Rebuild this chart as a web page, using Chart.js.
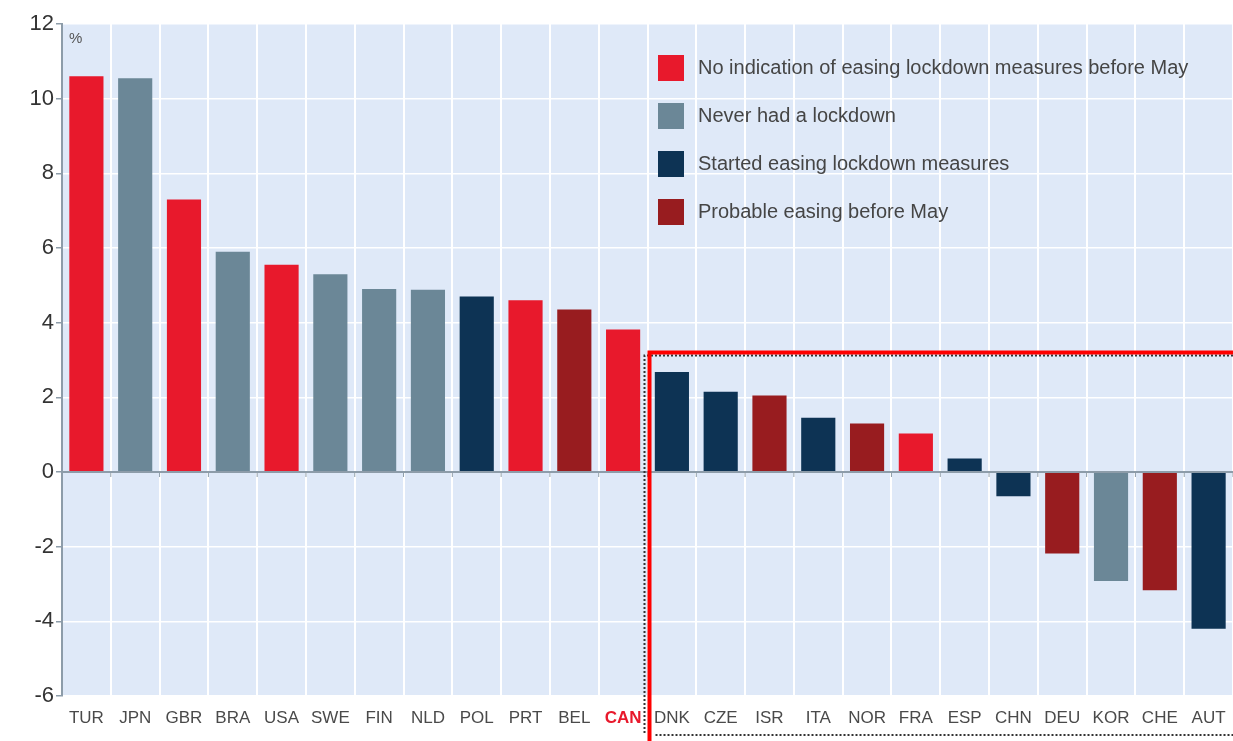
<!DOCTYPE html>
<html>
<head>
<meta charset="utf-8">
<script src="https://cdn.jsdelivr.net/npm/chart.js@4"></script>
<style>
  html, body { margin: 0; padding: 0; background: #ffffff; }
  #wrap { width: 1233px; height: 741px; position: relative; }
</style>
</head>
<body>
<div id="wrap"><canvas id="c" width="1233" height="741"></canvas></div>
<script>
const categories = ["TUR","JPN","GBR","BRA","USA","SWE","FIN","NLD","POL","PRT","BEL","CAN",
                    "DNK","CZE","ISR","ITA","NOR","FRA","ESP","CHN","DEU","KOR","CHE","AUT"];
const values = [10.6, 10.55, 7.3, 5.9, 5.55, 5.3, 4.9, 4.88, 4.7, 4.6, 4.35, 3.82,
                2.68, 2.15, 2.05, 1.45, 1.3, 1.03, 0.36, -0.65, -2.18, -2.92, -3.17, -4.2];
// 0 = no easing before May, 1 = never lockdown, 2 = started easing, 3 = probable easing
const groups = [0,1,0,1,0,1,1,1,2,0,3,0,
                2,2,3,2,3,0,2,2,3,1,3,2];
const groupLabels = ["No indication of easing lockdown measures before May",
                     "Never had a lockdown",
                     "Started easing lockdown measures",
                     "Probable easing before May"];
const groupColors = ["#e8192c", "#6b8797", "#0d3354", "#981c1f"];
const yTicks = [-6, -4, -2, 0, 2, 4, 6, 8, 10, 12];
const highlightLabel = "CAN";

const datasets = groupLabels.map((lab, g) => ({
  label: lab,
  data: values.map((v, i) => groups[i] === g ? v : null),
  backgroundColor: groupColors[g],
  borderWidth: 0,
  grouped: false,
  barPercentage: 0.7,
  categoryPercentage: 1.0
}));

const FONT = "'Liberation Sans', Arial, sans-serif";

const bgPlugin = {
  id: 'bg',
  beforeDraw(chart) {
    const {ctx, chartArea: a} = chart;
    ctx.save();
    ctx.fillStyle = '#dfe9f8';
    ctx.fillRect(a.left, a.top, a.right - a.left, a.bottom - a.top);
    ctx.restore();
  }
};

const overlayPlugin = {
  id: 'overlay',
  afterDatasetsDraw(chart) {
    const {ctx, chartArea: a, scales: {x, y}} = chart;
    ctx.save();
    const y0 = y.getPixelForValue(0);
    ctx.strokeStyle = '#8d9ca9';
    ctx.lineWidth = 2;
    ctx.beginPath();
    ctx.moveTo(a.left, y0);
    ctx.lineTo(a.right, y0);
    ctx.stroke();
    ctx.lineWidth = 1;
    const half = (x.getPixelForValue(1) - x.getPixelForValue(0)) / 2;
    for (let i = 0; i < categories.length; i++) {
      const xb = x.getPixelForValue(i) + half;
      ctx.beginPath();
      ctx.moveTo(xb, y0);
      ctx.lineTo(xb, y0 + 5);
      ctx.stroke();
    }
    ctx.fillStyle = '#555';
    ctx.font = '15px ' + FONT;
    ctx.textBaseline = 'middle';
    ctx.fillText('%', a.left + 7, a.top + 15);
    const lx = 658, ly0 = 68, step = 48, sz = 26;
    groupLabels.forEach((lab, g) => {
      const cy = ly0 + g * step;
      ctx.fillStyle = groupColors[g];
      ctx.fillRect(lx, cy - sz / 2, sz, sz);
      ctx.fillStyle = '#454545';
      ctx.font = '20px ' + FONT;
      ctx.fillText(lab, lx + 40, cy);
    });
    ctx.restore();
  },
  afterDraw(chart) {
    const {ctx, chartArea: a, scales: {x, y}} = chart;
    const half = (x.getPixelForValue(1) - x.getPixelForValue(0)) / 2;
    const left = x.getPixelForValue(11) + half;
    const top = y.getPixelForValue(3.2);
    const bottom = a.bottom + 39;
    ctx.save();
    ctx.strokeStyle = '#333';
    ctx.lineWidth = 2;
    ctx.setLineDash([2, 2]);
    ctx.beginPath();
    ctx.moveTo(chart.width, top + 3);
    ctx.lineTo(left - 3, top + 3);
    ctx.lineTo(left - 3, bottom);
    ctx.moveTo(left + 8, bottom);
    ctx.lineTo(chart.width, bottom);
    ctx.stroke();
    ctx.setLineDash([]);
    ctx.strokeStyle = '#ff0000';
    ctx.lineWidth = 4;
    ctx.beginPath();
    ctx.moveTo(chart.width + 5, top);
    ctx.lineTo(left + 2, top);
    ctx.lineTo(left + 2, chart.height + 5);
    ctx.stroke();
    ctx.restore();
  }
};

new Chart(document.getElementById('c'), {
  type: 'bar',
  data: { labels: categories, datasets },
  options: {
    responsive: false,
    animation: false,
    layout: { padding: { top: 24, right: 0, left: 0, bottom: 0 } },
    plugins: { legend: { display: false }, tooltip: { enabled: false } },
    scales: {
      x: {
        offset: true,
        grid: { offset: true, color: '#ffffff', lineWidth: 2, drawTicks: false },
        border: { display: false },
        ticks: {
          padding: 12,
          autoSkip: false,
          maxRotation: 0,
          font: (c) => ({ family: FONT, size: 17, weight: categories[c.index] === highlightLabel ? 'bold' : 'normal' }),
          color: (c) => categories[c.index] === highlightLabel ? '#e8192c' : '#4a4a4a'
        },
        afterFit(s) { s.height = 45; s.paddingLeft = 0; s.paddingRight = 0; }
      },
      y: {
        min: -6, max: 12,
        afterBuildTicks(s) { s.ticks = yTicks.map(v => ({ value: v })); },
        grid: { color: '#ffffff', lineWidth: 1.5, tickColor: '#8d9ca9', tickLength: 6 },
        border: { display: true, color: '#8d9ca9', width: 2 },
        ticks: { padding: 2, color: '#333', font: { family: FONT, size: 22 } },
        afterFit(s) { s.width = 62; }
      }
    }
  },
  plugins: [bgPlugin, overlayPlugin]
});
</script>
</body>
</html>
